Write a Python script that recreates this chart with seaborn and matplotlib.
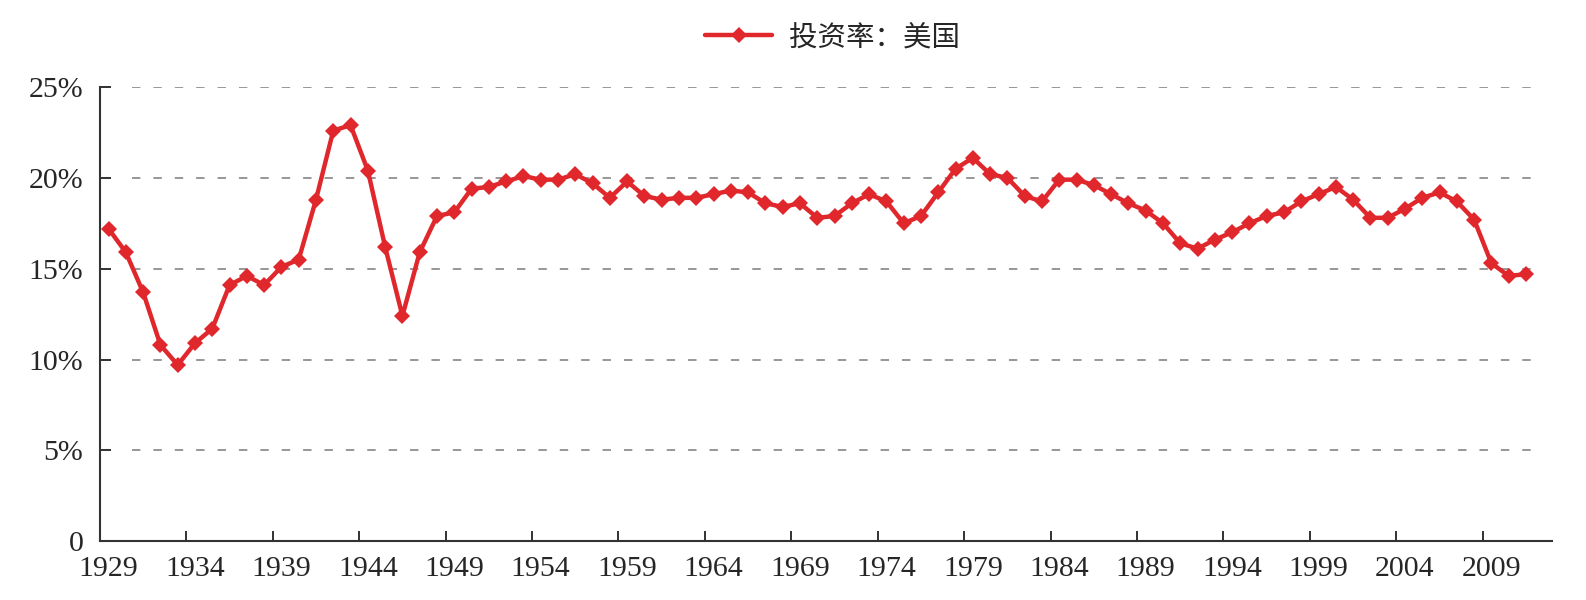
import numpy as np
import pandas as pd
import matplotlib
matplotlib.use("Agg")
import matplotlib.pyplot as plt
from matplotlib.ticker import FixedLocator, FixedFormatter
import seaborn as sns

# investment rate, USA, % of GDP
years = list(range(1929, 2012))
rate = [17.2, 15.9, 13.7, 10.8, 9.7, 10.9, 11.7, 14.1, 14.6, 14.1,
        15.1, 15.5, 18.8, 22.6, 22.9, 20.4, 16.2, 12.4, 15.9, 17.9,
        18.1, 19.4, 19.5, 19.8, 20.1, 19.9, 19.9, 20.2, 19.7, 18.9,
        19.8, 19.0, 18.8, 18.9, 18.9, 19.1, 19.3, 19.2, 18.6, 18.4,
        18.6, 17.8, 17.9, 18.6, 19.1, 18.7, 17.5, 17.9, 19.2, 20.5,
        21.1, 20.2, 20.0, 19.0, 18.7, 19.9, 19.9, 19.6, 19.1, 18.6,
        18.2, 17.5, 16.4, 16.1, 16.6, 17.0, 17.5, 17.9, 18.1, 18.7,
        19.1, 19.5, 18.8, 17.8, 17.8, 18.3, 18.9, 19.2, 18.7, 17.7,
        15.3, 14.6, 14.7]
series_name = "投资率：美国"
label_years = list(range(1929, 2010, 5))
y_ticks = [0, 5, 10, 15, 20, 25]
y_labels = ["0", "5%", "10%", "15%", "20%", "25%"]

df = pd.DataFrame({"year": years, "rate": rate, "series": series_name})

sns.set_style("white")
plt.rcParams["font.family"] = ["Liberation Serif", "Noto Sans CJK SC", "DejaVu Sans"]

red = "#E0272C"
fig = plt.figure(figsize=(15.86, 6.0), dpi=100)
ax = fig.add_axes([0.063, 0.098, 0.9155, 0.757])

sns.lineplot(data=df, x="year", y="rate", hue="series", palette=[red],
             marker="D", markersize=8, markeredgewidth=0, linewidth=3.2,
             ax=ax, legend=False)

ax.set_xlim(1928.5, 2012.5)
ax.set_ylim(0, 25)

# dashed horizontal grid
for v in y_ticks[1:]:
    ax.axhline(v, xmin=0.022, xmax=0.99, color="#7a7a7a", linewidth=1.1,
               linestyle=(0, (5.5, 8.5)), zorder=0)

ax.yaxis.set_major_locator(FixedLocator(y_ticks))
ax.yaxis.set_major_formatter(FixedFormatter(y_labels))
ax.tick_params(axis="y", which="major", direction="in", length=8, width=1.3,
               color="#222222", labelsize=21.5, pad=12, left=True)

# labels at categories, ticks on category boundaries
ax.xaxis.set_major_locator(FixedLocator(label_years))
ax.xaxis.set_major_formatter(FixedFormatter([str(y) for y in label_years]))
ax.xaxis.set_minor_locator(FixedLocator([y + 4.5 for y in label_years]))
ax.tick_params(axis="x", which="major", length=0, labelsize=21.5, pad=11)
ax.tick_params(axis="x", which="minor", direction="in", length=7, width=1.3,
               color="#222222", bottom=True)

for side in ["top", "right"]:
    ax.spines[side].set_visible(False)
for side in ["left", "bottom"]:
    ax.spines[side].set_color("#333333")
    ax.spines[side].set_linewidth(1.5)

ax.set_xlabel("")
ax.set_ylabel("")

handle = plt.Line2D([], [], color=red, linewidth=3.2, marker="D",
                    markersize=8, markeredgewidth=0)
fig.legend([handle], [series_name], loc="center", bbox_to_anchor=(0.525, 0.938),
           frameon=False, handlelength=2.35, handletextpad=0.6,
           prop={"family": ["Noto Sans CJK SC"], "size": 20.5})

fig.savefig("out.png", dpi=100, facecolor="white")
